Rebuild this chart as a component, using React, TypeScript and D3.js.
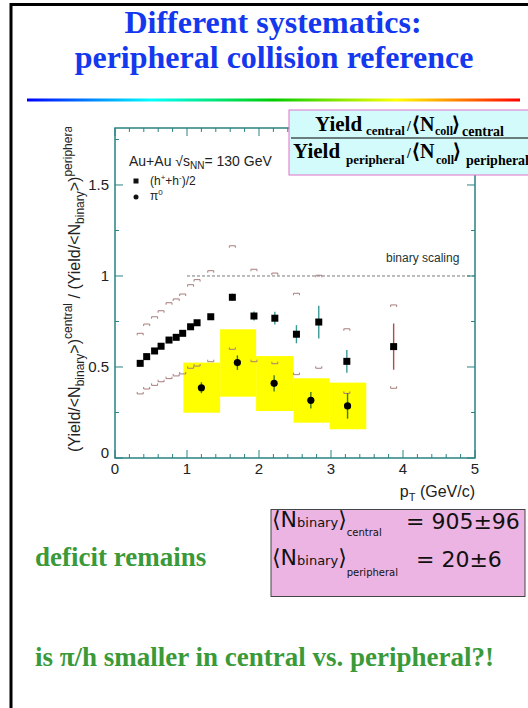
import * as d3 from "d3";

// charged hadrons (h+ + h-)/2
const hPt = [0.35, 0.44, 0.55, 0.64, 0.75, 0.85, 0.94, 1.05, 1.14, 1.33, 1.63, 1.93, 2.22, 2.52, 2.83, 3.22, 3.87];
const hRatio = [0.52, 0.557, 0.588, 0.614, 0.648, 0.663, 0.685, 0.721, 0.743, 0.776, 0.883, 0.78, 0.768, 0.68, 0.747, 0.531, 0.612];
const hStat = [0, 0, 0, 0, 0, 0, 0, 0, 0, 0, 0.02, 0.025, 0.035, 0.05, 0.09, 0.063, 0.127];
const hSysHi = [0.685, 0.736, 0.776, 0.809, 0.853, 0.874, 0.901, 0.952, 0.98, 1.029, 1.166, 1.037, 1.016, 0.905, 1.004, 0.71, 0.841];
const hSysLo = [0.352, 0.379, 0.399, 0.419, 0.436, 0.451, 0.462, 0.493, 0.505, 0.529, 0.597, 0.529, 0.518, 0.458, 0.493, 0.355, 0.383];

// neutral pions
const piPt = [1.2, 1.7, 2.21, 2.72, 3.23];
const piRatio = [0.386, 0.524, 0.41, 0.317, 0.286];
const piStat = [0.03, 0.04, 0.045, 0.045, 0.07];
const piBoxLo = [0.249, 0.337, 0.258, 0.194, 0.158];
const piBoxHi = [0.524, 0.707, 0.56, 0.438, 0.414];
const piBoxEdges = [0.95, 1.46, 1.96, 2.48, 2.98, 3.49];

const xTicks = [0, 1, 2, 3, 4, 5];
const yTicks = [0, 0.5, 1, 1.5];
const yTickLabels = ["0", "0.5", "1", "1.5"];

const sans = "'Liberation Sans', Arial, sans-serif";
const serif = "'Liberation Serif', 'Times New Roman', serif";
const axisCol = "#2a8282";

export default function App() {
  const x = d3.scaleLinear().domain([0, 5]).range([115, 475]);
  const y = d3.scaleLinear().domain([0, 1.813]).range([458, 128]);
  const xMinor = x.ticks(20);
  const yMinor = d3.range(0, 1.8, 0.25);

  const rainbow = ["#0000ff", "#00ffff", "#00cc00", "#ffff00", "#ff0000"];

  return (
    <svg width={528} height={708} style={{ position: "absolute", left: 0, top: 0, background: "#fff" }}>
      <defs>
        <linearGradient id="rb" x1="0" x2="1" y1="0" y2="0">
          {rainbow.map((c, i) => (
            <stop key={i} offset={i / (rainbow.length - 1)} stopColor={c} />
          ))}
        </linearGradient>
        <clipPath id="ylab">
          <rect x={0} y={127} width={110} height={340} />
        </clipPath>
        <clipPath id="page">
          <rect x={0} y={0} width={528} height={708} />
        </clipPath>
      </defs>

      {/* slide frame */}
      <line x1={11} x2={528} y1={4.5} y2={4.5} stroke="#000" strokeWidth={3} />
      <line x1={11} x2={11} y1={3} y2={708} stroke="#000" strokeWidth={3} />

      {/* title */}
      <text x={273} y={33} textAnchor="middle" fontFamily={serif} fontWeight="bold" fontSize={32} fill="#1438ee">
        Different systematics:
      </text>
      <text x={274} y={68} textAnchor="middle" fontFamily={serif} fontWeight="bold" fontSize={32} fill="#1438ee">
        peripheral collision reference
      </text>
      <rect x={27} y={98.5} width={493} height={3} fill="url(#rb)" />

      {/* pi0 systematic boxes */}
      {piPt.map((_, i) => (
        <rect key={"b" + i} x={x(piBoxEdges[i])} width={x(piBoxEdges[i + 1]) - x(piBoxEdges[i])}
          y={y(piBoxHi[i])} height={y(piBoxLo[i]) - y(piBoxHi[i])} fill="#ffff00" />
      ))}

      {/* binary scaling */}
      <line x1={x(1)} x2={x(5)} y1={y(1)} y2={y(1)} stroke="#555" strokeWidth={0.8} strokeDasharray="3,2" />
      <text x={386} y={262} fontFamily={sans} fontSize={12} fill="#233">binary scaling</text>

      {/* frame + ticks */}
      <rect x={x(0)} y={y(1.813)} width={x(5) - x(0)} height={y(0) - y(1.813)} fill="none" stroke={axisCol} strokeWidth={1.5} />
      {xMinor.map((t) => {
        const len = Number.isInteger(t) ? 8 : 4;
        return (
          <g key={"xt" + t} stroke={axisCol} strokeWidth={1}>
            <line x1={x(t)} x2={x(t)} y1={y(0)} y2={y(0) - len} />
            <line x1={x(t)} x2={x(t)} y1={y(1.813)} y2={y(1.813) + len} />
          </g>
        );
      })}
      {yMinor.map((t) => {
        const len = t % 0.5 === 0 ? 8 : 4;
        return (
          <g key={"yt" + t} stroke={axisCol} strokeWidth={1}>
            <line x1={x(0)} x2={x(0) + len} y1={y(t)} y2={y(t)} />
            <line x1={x(5)} x2={x(5) - len} y1={y(t)} y2={y(t)} />
          </g>
        );
      })}
      {xTicks.map((t) => (
        <text key={"xl" + t} x={x(t)} y={y(0) + 16} textAnchor="middle" fontFamily={sans} fontSize={15} fill="#222">{t}</text>
      ))}
      {yTicks.map((t, i) => (
        <text key={"yl" + t} x={x(0) - 6} y={y(t) + (t === 0 ? 0 : 5)} textAnchor="end" fontFamily={sans} fontSize={15} fill="#222">{yTickLabels[i]}</text>
      ))}

      {/* axis titles */}
      <text x={475} y={497} textAnchor="end" fontFamily={sans} fontSize={16} fill="#222">
        p<tspan fontSize={11} dy={4}>T</tspan><tspan dy={-4}> (GeV/c)</tspan>
      </text>
      <g clipPath="url(#ylab)">
        <text transform="translate(80,452) rotate(-90)" fontFamily={sans} fontSize={16} fill="#222">
          (Yield/&lt;N<tspan fontSize={12} dy={4}>binary</tspan><tspan dy={-4}>&gt;)</tspan>
          <tspan fontSize={12} dy={-8}>central</tspan><tspan dy={8}> / (Yield/&lt;N</tspan>
          <tspan fontSize={12} dy={4}>binary</tspan><tspan dy={-4}>&gt;)</tspan>
          <tspan fontSize={12} dy={-8}>peripheral</tspan>
        </text>
      </g>

      {/* systematic brackets for charged hadrons */}
      {hPt.map((p, i) => (
        <g key={"s" + i} fill="none" stroke="#a87c7c" strokeWidth={1}>
          <path d={`M${x(p) - 3},${y(hSysHi[i]) + 2}V${y(hSysHi[i])}H${x(p) + 3}V${y(hSysHi[i]) + 2}`} />
          <path d={`M${x(p) - 3},${y(hSysLo[i]) - 2}V${y(hSysLo[i])}H${x(p) + 3}V${y(hSysLo[i]) - 2}`} />
        </g>
      ))}

      {/* charged hadrons */}
      {hPt.map((p, i) => (
        <g key={"h" + i}>
          {hStat[i] > 0 && (
            <line x1={x(p)} x2={x(p)} y1={y(hRatio[i] + hStat[i])} y2={y(hRatio[i] - hStat[i])}
              stroke={i === hPt.length - 1 ? "#b84848" : "#3a9a9a"} strokeWidth={1.4} />
          )}
          <rect x={x(p) - 3.5} y={y(hRatio[i]) - 3.5} width={7} height={7} fill="#000" />
        </g>
      ))}

      {/* pi0 */}
      {piPt.map((p, i) => (
        <g key={"p" + i}>
          <line x1={x(p)} x2={x(p)} y1={y(piRatio[i] + piStat[i])} y2={y(piRatio[i] - piStat[i])} stroke="#3c7a28" strokeWidth={1.4} />
          <circle cx={x(p)} cy={y(piRatio[i])} r={3.6} fill="#000" />
        </g>
      ))}

      {/* legend */}
      <text x={129} y={166} fontFamily={sans} fontSize={14} fill="#222">
        Au+Au √s<tspan fontSize={10} dy={3}>NN</tspan><tspan dy={-3}>= 130 GeV</tspan>
      </text>
      <rect x={133.5} y={178.5} width={5} height={5} fill="#111" />
      <text x={150} y={185} fontFamily={sans} fontSize={12} fill="#222">
        (h<tspan fontSize={8} dy={-5}>+</tspan><tspan dy={5}>+h</tspan><tspan fontSize={8} dy={-5}>-</tspan><tspan dy={5}>)/2</tspan>
      </text>
      <circle cx={136} cy={197} r={2.5} fill="#111" />
      <text x={150} y={200} fontFamily={sans} fontSize={12} fill="#222">
        π<tspan fontSize={8} dy={-5}>0</tspan>
      </text>

      {/* formula box */}
      <rect x={289} y={110} width={245} height={65} fill="#d3fbfb" stroke="#e070c8" strokeWidth={1} />
      <line x1={291} x2={528} y1={138} y2={138} stroke="#000" strokeWidth={1.2} />
      <g fontFamily={serif} fontWeight="bold" fill="#000" clipPath="url(#page)">
        <text y={131}>
          <tspan x={315} fontSize={21}>Yield</tspan>
          <tspan x={366} dy={4} fontSize={13}>central</tspan>
          <tspan x={407} dy={-4} fontSize={14}>/</tspan>
          <tspan x={412} fontSize={20}>⟨N</tspan>
          <tspan x={435} dy={4} fontSize={12}>coll</tspan>
          <tspan x={452} dy={-4} fontSize={20}>⟩</tspan>
          <tspan x={462} dy={5} fontSize={14}>central</tspan>
        </text>
        <text y={158}>
          <tspan x={293} fontSize={21}>Yield</tspan>
          <tspan x={346} dy={6} fontSize={13}>peripheral</tspan>
          <tspan x={407} dy={-6} fontSize={14}>/</tspan>
          <tspan x={412} fontSize={20}>⟨N</tspan>
          <tspan x={436} dy={6} fontSize={12}>coll</tspan>
          <tspan x={453} dy={-6} fontSize={20}>⟩</tspan>
          <tspan x={466} dy={7} fontSize={14}>peripheral</tspan>
        </text>
      </g>

      {/* N binary box */}
      <rect x={271} y={509.5} width={254} height={87} fill="#ecb4e2" stroke="#444" strokeWidth={1} />
      <g fontFamily="'DejaVu Sans', sans-serif" fill="#111">
        <text x={272} y={527}>
          <tspan fontSize={22}>⟨N</tspan><tspan fontSize={13}>binary</tspan><tspan fontSize={22}>⟩</tspan>
          <tspan fontSize={10} dy={9}>central</tspan>
        </text>
        <text x={406} y={529} fontSize={22}>= 905±96</text>
        <text x={272} y={565}>
          <tspan fontSize={22}>⟨N</tspan><tspan fontSize={13}>binary</tspan><tspan fontSize={22}>⟩</tspan>
          <tspan fontSize={10} dy={11}>peripheral</tspan>
        </text>
        <text x={416} y={567} fontSize={22}>= 20±6</text>
      </g>

      {/* comments */}
      <text x={35} y={566} fontFamily={serif} fontWeight="bold" fontSize={27} fill="#3a9a3a">deficit remains</text>
      <text x={35} y={666} fontFamily={serif} fontWeight="bold" fontSize={27} fill="#3a9a3a">
        is π/h smaller in central vs. peripheral?!
      </text>
    </svg>
  );
}
